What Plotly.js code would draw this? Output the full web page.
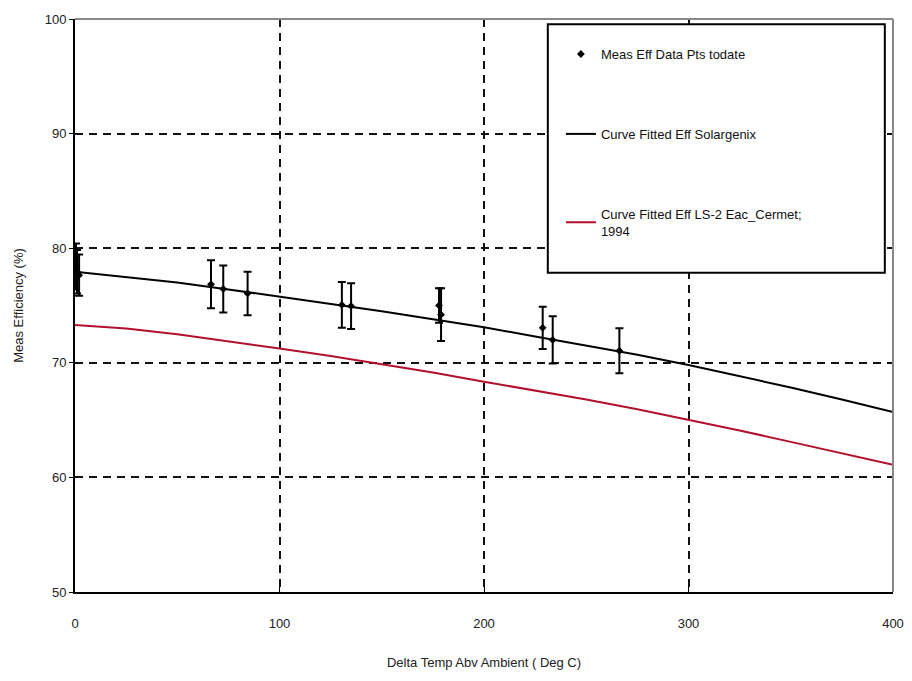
<!DOCTYPE html>
<html>
<head>
<meta charset="utf-8">
<script src="https://cdn.plot.ly/plotly-3.0.1.min.js"></script>
<style>html,body{margin:0;padding:0;background:#fff}#chart{width:912px;height:681px}</style>
</head>
<body>
<div id="chart"></div>
<script>
// Measured efficiency data points
const measX   = [0.5, 1, 2, 66.5, 72.5, 84.4, 130.5, 135, 178, 179, 228.7, 233.6, 266.2];
const measY   = [78.4, 77.95, 77.65, 76.85, 76.45, 76.05, 75.05, 74.95, 75.0, 74.2, 73.05, 72.0, 71.05];
const measErr = [2.0, 1.9, 1.8, 2.1, 2.05, 1.9, 2.0, 2.0, 1.5, 2.3, 1.85, 2.07, 1.96];

// Curve fitted efficiency, Solargenix
const fitX     = [0, 25, 50, 75, 100, 125, 150, 175, 200, 225, 250, 275, 300, 325, 350, 375, 400];
const solarY   = [77.95, 77.5, 77.0, 76.4, 75.77, 75.15, 74.5, 73.8, 73.1, 72.3, 71.5, 70.7, 69.8, 68.85, 67.85, 66.8, 65.7];
// Curve fitted efficiency, LS-2
const ls2Y     = [73.3, 73.0, 72.5, 71.9, 71.25, 70.6, 69.9, 69.15, 68.35, 67.6, 66.8, 65.95, 65.05, 64.1, 63.1, 62.1, 61.1];

const xTicks = [0, 100, 200, 300, 400];
const yTicks = [50, 60, 70, 80, 90, 100];

const FONT = '"Liberation Sans", Arial, sans-serif';

const traces = [
  {
    x: measX, y: measY, type: 'scatter', mode: 'markers',
    name: 'Meas Eff Data Pts todate', legendgroup: 'a',
    marker: {symbol: 'diamond', size: 6, color: '#000'},
    error_y: {type: 'data', array: measErr, visible: true, color: '#000', thickness: 2, width: 4}
  },
  {
    x: fitX, y: solarY, type: 'scatter', mode: 'lines',
    name: 'Curve Fitted Eff Solargenix', legendgroup: 'b',
    line: {color: '#000', width: 2}
  },
  {
    x: fitX, y: ls2Y, type: 'scatter', mode: 'lines',
    name: 'Curve Fitted Eff LS-2 Eac_Cermet;<br>1994', legendgroup: 'c',
    line: {color: '#b3102e', width: 2}
  }
];

const layout = {
  width: 912, height: 681,
  margin: {l: 75, r: 19, t: 19, b: 89},
  paper_bgcolor: '#fff', plot_bgcolor: '#fff',
  font: {family: FONT, size: 13, color: '#222'},
  showlegend: true,
  legend: {
    x: 0.594, y: 0.965, xanchor: 'left', yanchor: 'top',
    bgcolor: 'rgba(0,0,0,0)', borderwidth: 0,
    traceorder: 'grouped', tracegroupgap: 60,
    font: {family: FONT, size: 13, color: '#111'}
  },
  xaxis: {
    range: [0, 400], tickvals: xTicks, ticktext: xTicks.map(String),
    showgrid: true, gridcolor: '#111', griddash: '8px,6px', gridwidth: 2,
    showline: true, linecolor: '#000', linewidth: 2,
    ticks: 'inside', ticklen: 5, tickcolor: '#000',
    ticklabelstandoff: 18,
    zeroline: false,
    tickfont: {family: FONT, size: 13, color: '#222'},
    title: {text: 'Delta Temp Abv Ambient ( Deg C)', font: {family: FONT, size: 13, color: '#222'}, standoff: 28}
  },
  yaxis: {
    range: [50, 100], tickvals: yTicks, ticktext: yTicks.map(String),
    showgrid: true, gridcolor: '#111', griddash: '8px,6px', gridwidth: 2,
    showline: true, linecolor: '#000', linewidth: 2,
    ticks: 'outside', ticklen: 4, tickcolor: '#000',
    zeroline: false,
    tickfont: {family: FONT, size: 13, color: '#222'},
    title: {text: 'Meas Efficiency (%)', font: {family: FONT, size: 13, color: '#222'}, standoff: 18}
  },
  shapes: [
    {type: 'line', xref: 'paper', yref: 'paper', x0: 0, x1: 1, y0: 1, y1: 1, line: {color: '#888', width: 2}},
    {type: 'line', xref: 'paper', yref: 'paper', x0: 1, x1: 1, y0: 0, y1: 1, line: {color: '#888', width: 2}},
    {type: 'rect', xref: 'paper', yref: 'paper', x0: 0.578, x1: 0.990, y0: 0.557, y1: 0.991,
     fillcolor: '#fff', line: {color: '#000', width: 2}, layer: 'above'}
  ]
};

Plotly.newPlot('chart', traces, layout, {displayModeBar: false, staticPlot: true});
</script>
</body>
</html>
